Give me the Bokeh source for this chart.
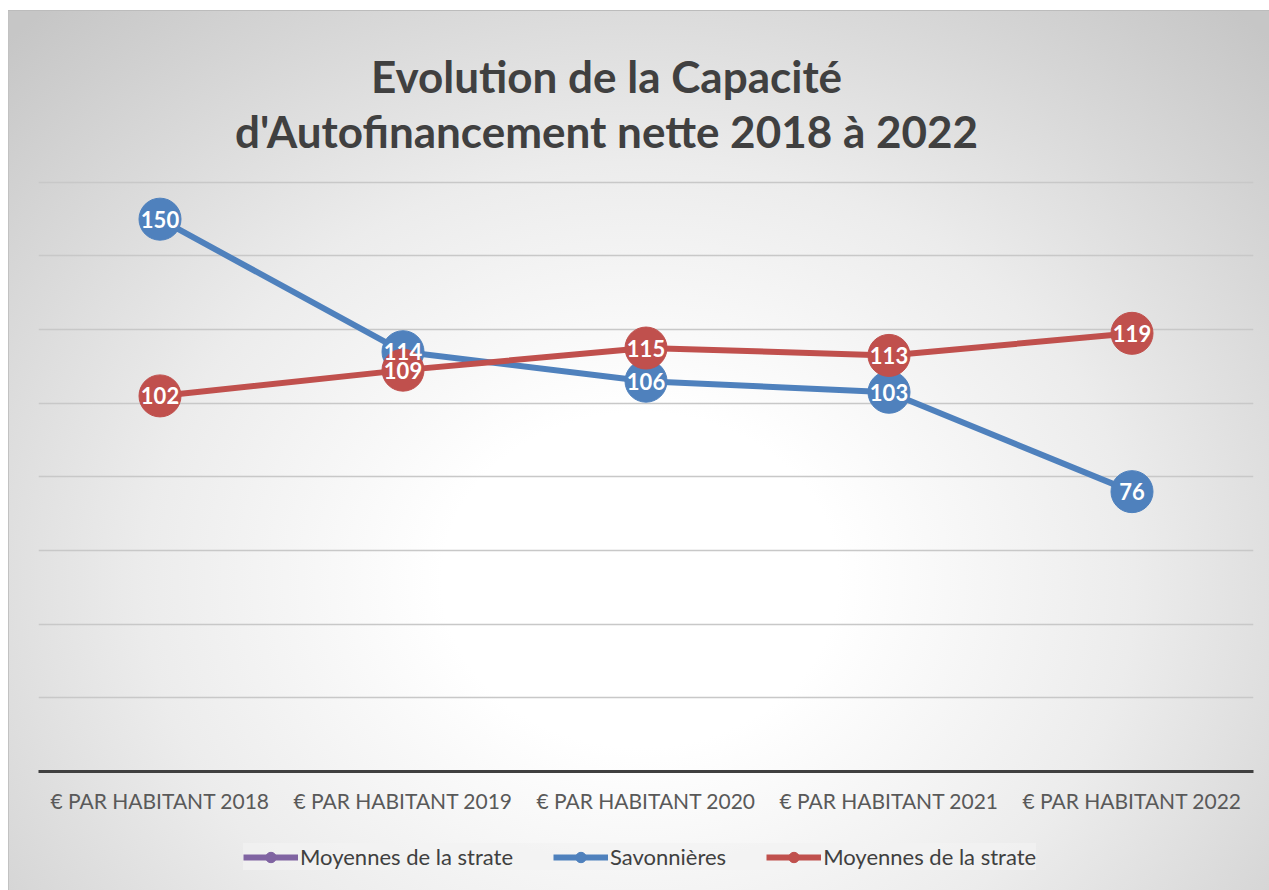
from bokeh.plotting import figure
from bokeh.layouts import column
from bokeh.models import (ColumnDataSource, FactorRange, Range1d, FixedTicker,
                          Legend, LegendItem, Label)
from bokeh.core.properties import value
from bokeh.embed import file_html
from bokeh.resources import INLINE

categories = ["€ PAR HABITANT 2018", "€ PAR HABITANT 2019", "€ PAR HABITANT 2020",
              "€ PAR HABITANT 2021", "€ PAR HABITANT 2022"]
savonnieres = [150, 114, 106, 103, 76]
moyennes = [102, 109, 115, 113, 119]
series_names = ["Moyennes de la strate", "Savonnières", "Moyennes de la strate"]
series_colors = ["#8064A2", "#4F81BD", "#C0504D"]
y_ticks = [0, 20, 40, 60, 80, 100, 120, 140, 160]
title_lines = ["Evolution de la Capacité", "d'Autofinancement nette 2018 à 2022"]

BLUE = series_colors[1]
RED = series_colors[2]
FONT = "Lato"
TITLE_H = 170
MAIN_H = 825 - TITLE_H
LEG_H = 890 - 825


def bg(dy):
    return (
        f"linear-gradient(#bcbcbc,#bcbcbc) 8px {10 - dy}px / 1261px 1px no-repeat, "
        f"linear-gradient(#c2c2c2,#c2c2c2) 8px {10 - dy}px / 1px 880px no-repeat, "
        "radial-gradient(ellipse 900px 760px at 632px 570px, #ffffff 0%, #ffffff 22%, "
        f"#ececec 55%, #c6c6c6 100%) 8px {10 - dy}px / 1261px 880px no-repeat, #ffffff"
    )


def strip(height, dy, **kw):
    f = figure(width=1269, height=height, output_backend="svg", toolbar_location=None, **kw)
    f.axis.visible = False
    f.grid.visible = False
    f.background_fill_color = None
    f.border_fill_color = None
    f.outline_line_color = None
    f.styles = {"background": bg(dy)}
    return f


# title strip
tf = strip(TITLE_H, 0, x_range=Range1d(38, 1253), y_range=Range1d(TITLE_H, 0),
           min_border_left=38, min_border_right=16, min_border_top=0, min_border_bottom=0)
for txt, ty in zip(title_lines, (75, 130)):
    tf.add_layout(Label(x=606, y=ty, text=txt, text_align="center", text_baseline="middle",
                        text_font=FONT, text_font_size="44px", text_font_style="bold",
                        text_color="#404040"))

# main chart
p = figure(width=1269, height=MAIN_H, x_range=FactorRange(*categories, range_padding=0),
           y_range=Range1d(0, 160.5), output_backend="svg", toolbar_location=None,
           min_border_left=38, min_border_right=16, min_border_top=180 - TITLE_H,
           min_border_bottom=825 - 771)
p.background_fill_color = None
p.border_fill_color = None
p.outline_line_color = None
p.styles = {"background": bg(TITLE_H)}

p.yaxis.visible = False
p.ygrid.ticker = FixedTicker(ticks=y_ticks)
p.ygrid.grid_line_color = "#c8c8c8"
p.ygrid.grid_line_width = 1.5
p.xgrid.visible = False

xa = p.xaxis[0]
xa.axis_line_color = "#404040"
xa.axis_line_width = 3
xa.major_tick_line_color = None
xa.minor_tick_line_color = None
xa.major_label_text_font = FONT
xa.major_label_text_font_size = "21px"
xa.major_label_text_color = "#595959"
xa.major_label_standoff = 10

src_b = ColumnDataSource(dict(x=categories, y=savonnieres, t=[str(v) for v in savonnieres]))
src_r = ColumnDataSource(dict(x=categories, y=moyennes, t=[str(v) for v in moyennes]))

p.line("x", "y", source=src_b, line_color=BLUE, line_width=6)
p.scatter("x", "y", source=src_b, size=42, fill_color=BLUE, line_color=BLUE)
p.line("x", "y", source=src_r, line_color=RED, line_width=6)
p.scatter("x", "y", source=src_r, size=42, fill_color=RED, line_color=RED)

for src in (src_b, src_r):
    p.text("x", "y", text="t", source=src, text_align="center", text_baseline="middle",
           text_color="white", text_font=value(FONT), text_font_size="22px",
           text_font_style="bold")

# legend strip under the chart
lf = strip(LEG_H, 825, x_range=Range1d(0, 1), y_range=Range1d(0, 1),
           min_border_left=0, min_border_right=0, min_border_top=0, min_border_bottom=0)

items = []
for name, col in zip(series_names, series_colors):
    s = ColumnDataSource(dict(x=[float("nan")], y=[float("nan")]))
    r1 = lf.line("x", "y", source=s, line_color=col, line_width=6)
    r2 = lf.scatter("x", "y", source=s, size=12, fill_color=col, line_color=col)
    items.append(LegendItem(label=name, renderers=[r1, r2]))

legend = Legend(items=items, orientation="horizontal", location=(205, 20))
legend.label_text_font = FONT
legend.label_text_font_size = "22px"
legend.label_text_color = "#404040"
legend.glyph_width = 55
legend.glyph_height = 26
legend.label_standoff = 2
legend.spacing = 40
legend.padding = 9
legend.margin = 0
legend.background_fill_color = "#f2f2f2"
legend.background_fill_alpha = 0.7
legend.border_line_color = None
lf.add_layout(legend, "center")

layout = column(tf, p, lf, spacing=0)
open("out.html", "w").write(file_html(layout, INLINE))
